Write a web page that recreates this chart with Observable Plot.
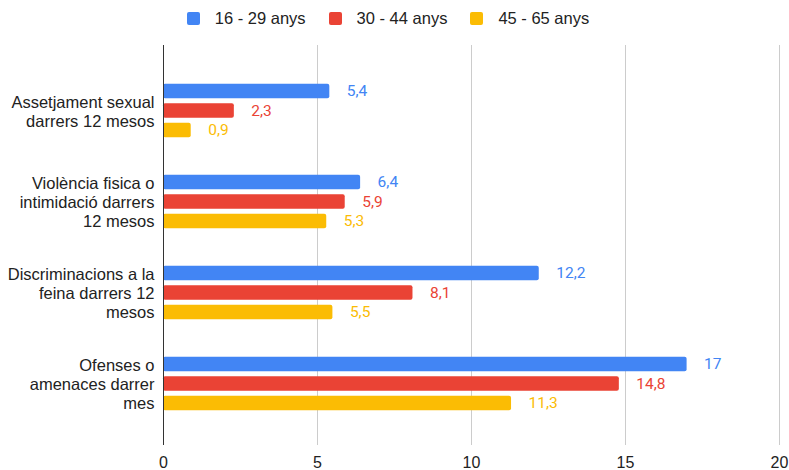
<!DOCTYPE html>
<html>
<head>
<meta charset="utf-8">
<script src="https://cdn.jsdelivr.net/npm/d3@7"></script>
<script src="https://cdn.jsdelivr.net/npm/@observablehq/plot@0.6"></script>
<style>
  html, body { margin: 0; padding: 0; background: #fff; }
  body { width: 789px; height: 470px; overflow: hidden; font-family: "Liberation Sans", Arial, sans-serif; }
  #legend { height: 36px; display: flex; justify-content: center; align-items: center; font-size: 16.5px; color: #222; padding-right: 13px; box-sizing: border-box; }
  .item { display: flex; align-items: center; margin: 0 11.5px; }
  .sw { width: 13px; height: 13px; border-radius: 2px; margin-right: 15px; }
</style>
</head>
<body>
<div id="legend"></div>
<div id="chart"></div>
<script>
const categories = [
  "Assetjament sexual darrers 12 mesos",
  "Violència fisica o intimidació darrers 12 mesos",
  "Discriminacions a la feina darrers 12 mesos",
  "Ofenses o amenaces darrer mes"
];
const categoryLines = [
  "Assetjament sexual\ndarrers 12 mesos",
  "Violència fisica o\nintimidació darrers\n12 mesos",
  "Discriminacions a la\nfeina darrers 12\nmesos",
  "Ofenses o\namenaces darrer\nmes"
];
const series = ["16 - 29 anys", "30 - 44 anys", "45 - 65 anys"];
const colors = ["#4285F4", "#EA4335", "#FBBC04"];
const values16_29 = [5.4, 6.4, 12.2, 17];
const values30_44 = [2.3, 5.9, 8.1, 14.8];
const values45_65 = [0.9, 5.3, 5.5, 11.3];
const xTicks = [0, 5, 10, 15, 20];

const seriesValues = [values16_29, values30_44, values45_65];
const rows = [];
seriesValues.forEach((vals, s) => vals.forEach((v, c) => rows.push({series: series[s], s, category: categories[c], value: v})));
const fmt = v => String(v).replace(".", ",");
const offsets = [-19.5, 0, 19.5];

// legend
const legend = document.getElementById("legend");
series.forEach((name, i) => {
  const it = document.createElement("div");
  it.className = "item";
  it.innerHTML = `<span class="sw" style="background:${colors[i]}"></span><span>${name}</span>`;
  legend.appendChild(it);
});

const marks = [
  Plot.ruleX(xTicks.filter(t => t > 0), {stroke: "#cccccc", strokeWidth: 1}),
];
series.forEach((name, s) => {
  const data = rows.filter(r => r.s === s);
  marks.push(Plot.barX(data, {x: "value", y: "category", fill: colors[s], insetTop: 38.25, insetBottom: 38.25, dy: offsets[s], rx: 2}));
  marks.push(Plot.text(data, {x: "value", y: "category", text: d => fmt(d.value), dx: 17, dy: offsets[s], textAnchor: "start", fill: colors[s], fontSize: 15.5, fontFamily: "Roboto"}));
});
marks.push(Plot.ruleX([0], {stroke: "#333333", strokeWidth: 1}));
marks.push(Plot.text(categories, {x: () => 0, y: d => d, text: (d, i) => categoryLines[i], dx: -9, textAnchor: "end", lineHeight: 1.16, fontSize: 16.5, fill: "#222"}));
marks.push(Plot.axisX(xTicks, {tickSize: 0, tickPadding: 11, fontSize: 16, fill: "#222", label: null, tickFormat: d => String(d)}));

const chart = Plot.plot({
  width: 789,
  height: 434,
  marginLeft: 163,
  marginRight: 10,
  marginTop: 9,
  marginBottom: 25,
  style: {fontFamily: "'Liberation Sans', Arial, sans-serif", fontSize: "16px", color: "#222", background: "#fff", overflow: "visible"},
  x: {domain: [0, 20], axis: null},
  y: {domain: categories, padding: 0, insetTop: 18.75, insetBottom: 15.25, axis: null},
  marks
});
document.getElementById("chart").appendChild(chart);
</script>
</body>
</html>
